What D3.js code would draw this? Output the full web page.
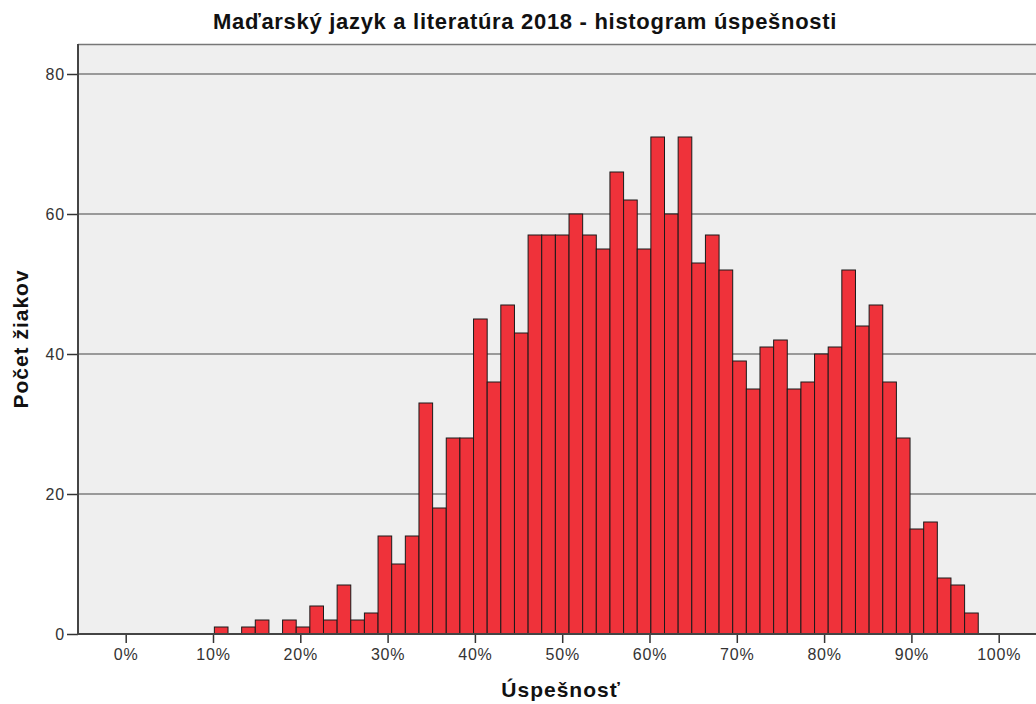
<!DOCTYPE html>
<html>
<head>
<meta charset="utf-8">
<script src="https://cdn.jsdelivr.net/npm/d3@7"></script>
<style>
  body { margin: 0; background: #fff; }
  text { font-family: "Liberation Sans", Arial, sans-serif; }
</style>
</head>
<body>
<svg id="chart" width="1036" height="704"></svg>
<script>
// body (z 64) a pocet ziakov
var scores = [7, 8, 9, 10, 11, 12, 13, 14, 15, 16, 17, 18, 19, 20, 21, 22, 23, 24, 25, 26,
              27, 28, 29, 30, 31, 32, 33, 34, 35, 36, 37, 38, 39, 40, 41, 42, 43, 44, 45, 46,
              47, 48, 49, 50, 51, 52, 53, 54, 55, 56, 57, 58, 59, 60, 61, 62];
var counts = [1, 0, 1, 2, 0, 2, 1, 4, 2, 7, 2, 3, 14, 10, 14, 33, 18, 28, 28, 45,
              36, 47, 43, 57, 57, 57, 60, 57, 55, 66, 62, 55, 71, 60, 71, 53, 57, 52, 39, 35,
              41, 42, 35, 36, 40, 41, 52, 44, 47, 36, 28, 15, 16, 8, 7, 3];
var maxScore = 64;
var xTicks = [0, 0.1, 0.2, 0.3, 0.4, 0.5, 0.6, 0.7, 0.8, 0.9, 1];
var yTicks = [0, 20, 40, 60, 80];

var svg = d3.select("#chart");

var x = d3.scaleLinear().domain([0, 1]).range([125.7, 998.7]);
var y = d3.scaleLinear().domain([0, 80]).range([634, 74]);

// plot area
svg.append("rect")
   .attr("x", 78).attr("y", 44)
   .attr("width", 1000).attr("height", 590)
   .style("fill", "#efefef");
svg.append("line")
   .attr("x1", 78).attr("x2", 1036).attr("y1", 44.5).attr("y2", 44.5)
   .style("stroke", "#777").style("stroke-width", 1.5);

// gridlines
svg.append("g").selectAll("line").data(yTicks.filter(function(d){ return d > 0; }))
   .enter().append("line")
   .attr("x1", 78).attr("x2", 1036)
   .attr("y1", function(d){ return y(d); }).attr("y2", function(d){ return y(d); })
   .style("stroke", "#444").style("stroke-width", 1.2);

// bars
svg.append("g").selectAll("rect").data(scores)
   .enter().filter(function(d, i){ return counts[i] > 0; }).append("rect")
   .attr("x", function(d){ return x((d - 0.5) / maxScore); })
   .attr("width", function(d){ return x((d + 0.5) / maxScore) - x((d - 0.5) / maxScore); })
   .attr("y", function(d){ return y(counts[scores.indexOf(d)]); })
   .attr("height", function(d){ return y(0) - y(counts[scores.indexOf(d)]); })
   .style("fill", "#ef323a")
   .style("stroke", "#1a1a1a")
   .style("stroke-width", 1);

// axes
var yAxis = d3.axisLeft(y).tickValues(yTicks).tickSize(11).tickPadding(2);
var gy = svg.append("g").attr("transform", "translate(78,0)").call(yAxis);
var xAxis = d3.axisBottom(x).tickValues(xTicks).tickSize(9).tickPadding(6)
              .tickFormat(d3.format(".0%"));
var gx = svg.append("g").attr("transform", "translate(0,634)").call(xAxis);

[gx, gy].forEach(function(g){
  g.select(".domain").remove();
  g.selectAll(".tick line").style("stroke", "#333").style("stroke-width", 1.5);
  g.selectAll(".tick text")
   .style("font-family", "Liberation Sans, Arial, sans-serif")
   .style("font-size", "16px").style("letter-spacing", "0.8px").style("fill", "#333");
});

svg.append("line").attr("x1", 78).attr("x2", 78).attr("y1", 44).attr("y2", 634.5)
   .style("stroke", "#444").style("stroke-width", 2);
svg.append("line").attr("x1", 77).attr("x2", 1036).attr("y1", 634).attr("y2", 634)
   .style("stroke", "#444").style("stroke-width", 2);

// labels
svg.append("text").attr("x", 525).attr("y", 29)
   .attr("text-anchor", "middle")
   .text("Maďarský jazyk a literatúra 2018 - histogram úspešnosti")
   .style("font-size", "22px").style("font-weight", "bold").style("letter-spacing", "0.7px").style("fill", "#111");

svg.append("text").attr("x", 561).attr("y", 697)
   .attr("text-anchor", "middle")
   .text("Úspešnosť")
   .style("font-size", "21px").style("font-weight", "bold").style("letter-spacing", "1px").style("fill", "#111");

svg.append("text")
   .attr("transform", "translate(28,339) rotate(-90)")
   .attr("text-anchor", "middle")
   .text("Počet žiakov")
   .style("font-size", "21px").style("font-weight", "bold").style("letter-spacing", "1px").style("fill", "#111");
</script>
</body>
</html>
